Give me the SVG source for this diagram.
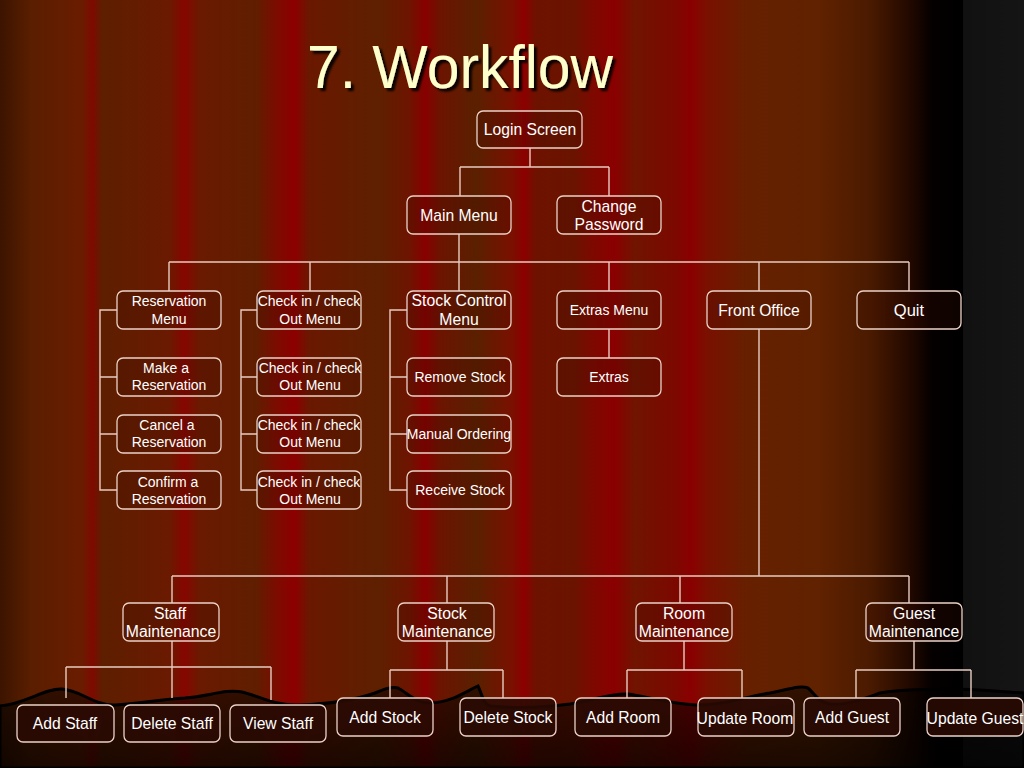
<svg xmlns="http://www.w3.org/2000/svg" width="1024" height="768" viewBox="0 0 1024 768">
<defs>
<linearGradient id="curtain" x1="0" y1="0" x2="1024" y2="0" gradientUnits="userSpaceOnUse">
<stop offset="0" stop-color="#3c1400"/>
<stop offset="0.03" stop-color="#5a1e00"/>
<stop offset="0.08" stop-color="#6a1c00"/>
<stop offset="0.09" stop-color="#7e0a00"/>
<stop offset="0.10" stop-color="#5e1e00"/>
<stop offset="0.165" stop-color="#6a1a00"/>
<stop offset="0.18" stop-color="#860600"/>
<stop offset="0.195" stop-color="#6a1a00"/>
<stop offset="0.25" stop-color="#601e00"/>
<stop offset="0.272" stop-color="#7e0a00"/>
<stop offset="0.288" stop-color="#8c0000"/>
<stop offset="0.302" stop-color="#6a1800"/>
<stop offset="0.37" stop-color="#5e2000"/>
<stop offset="0.40" stop-color="#6e1400"/>
<stop offset="0.415" stop-color="#880000"/>
<stop offset="0.43" stop-color="#6c1400"/>
<stop offset="0.465" stop-color="#5a2000"/>
<stop offset="0.50" stop-color="#7a1000"/>
<stop offset="0.512" stop-color="#8c0000"/>
<stop offset="0.523" stop-color="#6e1200"/>
<stop offset="0.56" stop-color="#6a1400"/>
<stop offset="0.58" stop-color="#7e0800"/>
<stop offset="0.60" stop-color="#8a0000"/>
<stop offset="0.62" stop-color="#701400"/>
<stop offset="0.66" stop-color="#7c0800"/>
<stop offset="0.675" stop-color="#8a0000"/>
<stop offset="0.69" stop-color="#7a1000"/>
<stop offset="0.73" stop-color="#662000"/>
<stop offset="0.80" stop-color="#602200"/>
<stop offset="0.85" stop-color="#4a1a00"/>
<stop offset="0.89" stop-color="#200800"/>
<stop offset="0.91" stop-color="#050000"/>
<stop offset="0.94" stop-color="#000000"/>
<stop offset="0.941" stop-color="#111111"/>
<stop offset="1" stop-color="#151515"/>
</linearGradient>
<linearGradient id="shade" x1="0" y1="690" x2="0" y2="768" gradientUnits="userSpaceOnUse">
<stop offset="0" stop-color="#000" stop-opacity="0.5"/>
<stop offset="1" stop-color="#000" stop-opacity="0.72"/>
</linearGradient>
<filter id="sh" x="-10%" y="-10%" width="130%" height="140%">
<feDropShadow dx="3" dy="3" stdDeviation="1.2" flood-color="#000" flood-opacity="0.9"/>
</filter>
</defs>
<style>
.n rect{fill:#3a0c00;fill-opacity:0.25;stroke:#ecd2c8;stroke-width:1.3}
.b rect{fill:#2a0a04;fill-opacity:0.85;stroke:#ecd2c8;stroke-width:1.3}
text{font-family:"Liberation Sans",Arial,sans-serif;fill:#ffffff;text-anchor:middle}
.s13{font-size:14px}
.s14{font-size:15.8px}
.s15{font-size:15.7px}
.s16{font-size:16.5px}
#connectors path{fill:none;stroke:#e8ccc0;stroke-width:1.4}
</style>
<rect x="0" y="0" width="1024" height="768" fill="url(#curtain)"/>
<path d="M0,706 C25,704 45,688 62,689 C80,690 95,706 115,705 C140,704 160,699 185,698 C210,696 225,689 242,692 C262,697 275,706 300,705 C330,704 355,700 375,693 C385,689 392,686 398,688 C408,693 415,703 430,703 C450,703 465,692 478,686 C482,694 483,704 490,706 C510,708 540,708 570,704 C595,700 610,693 628,694 C648,697 675,705 700,705 C725,705 745,697 770,693 C790,689 800,685 808,688 C815,694 818,702 830,704 C845,706 860,700 880,693 C900,689 920,690 940,689 C970,688 1000,692 1024,693 L1024,768 L0,768 Z" fill="url(#shade)" stroke="#000" stroke-width="3"/>
<text x="460" y="88" style="font-size:61px;fill:#ffffcc" textLength="306" lengthAdjust="spacingAndGlyphs" filter="url(#sh)">7. Workflow</text>
<g id="connectors">
<path d="M530,148 V167 M460,167 H609 M460,167 V196 M609,167 V196"/>
<path d="M459,234 V262 M169,262 H909 M169,262 V291 M310,262 V291 M459,262 V291 M609,262 V291 M759,262 V291 M909,262 V291"/>
<path d="M117,310 H100 V490 H117 M100,377 H117 M100,434 H117"/>
<path d="M257,310 H241 V490 H257 M241,377 H257 M241,434 H257"/>
<path d="M407,310 H390 V490 H407 M390,377 H407 M390,434 H407"/>
<path d="M609,329 V358"/>
<path d="M759,329 V576 M172,576 H909 M172,576 V603 M447,576 V603 M680,576 V603 M909,576 V603"/>
<path d="M172,641 V698 M66,667 H271 M66,667 V698 M271,667 V700"/>
<path d="M447,641 V670 M390,670 H503 M390,670 V698 M503,670 V698"/>
<path d="M684,641 V670 M627,670 H742 M627,670 V698 M742,670 V698"/>
<path d="M914,641 V670 M856,670 H971 M856,670 V698 M971,670 V698"/>
</g>
<g id="login" class="n"><rect x="477" y="111" width="105" height="37" rx="6"/><text class="s15" x="530" y="135">Login Screen</text></g>
<g id="mainmenu" class="n"><rect x="407" y="196" width="104" height="38" rx="6"/><text class="s15" x="459" y="221">Main Menu</text></g>
<g id="changepw" class="n"><rect x="557" y="196" width="104" height="38" rx="6"/><text class="s15" x="609" y="212">Change</text><text class="s15" x="609" y="230">Password</text></g>
<g id="resmenu" class="n"><rect x="117" y="291" width="104" height="38" rx="6"/><text class="s13" x="169" y="306">Reservation</text><text class="s13" x="169" y="324">Menu</text></g>
<g id="checkmenu" class="n"><rect x="257" y="291" width="104" height="38" rx="6"/><text class="s13" x="309" y="306">Check in / check</text><text class="s13" x="310" y="324">Out Menu</text></g>
<g id="stockmenu" class="n"><rect x="407" y="291" width="104" height="38" rx="6"/><text class="s14" x="459" y="306">Stock Control</text><text class="s14" x="459" y="325">Menu</text></g>
<g id="extrasmenu" class="n"><rect x="557" y="291" width="104" height="38" rx="6"/><text class="s13" x="609" y="315">Extras Menu</text></g>
<g id="frontoffice" class="n"><rect x="707" y="291" width="104" height="38" rx="6"/><text class="s15" x="759" y="316">Front Office</text></g>
<g id="quit" class="n"><rect x="857" y="291" width="104" height="38" rx="6"/><text class="s16" x="909" y="316">Quit</text></g>
<g id="makeres" class="n"><rect x="117" y="358" width="104" height="38" rx="6"/><text class="s13" x="166" y="373">Make a</text><text class="s13" x="169" y="390">Reservation</text></g>
<g id="check2" class="n"><rect x="257" y="358" width="104" height="38" rx="6"/><text class="s13" x="310" y="373">Check in / check</text><text class="s13" x="310" y="390">Out Menu</text></g>
<g id="removestock" class="n"><rect x="407" y="358" width="104" height="38" rx="6"/><text class="s13" x="460" y="382">Remove Stock</text></g>
<g id="extras" class="n"><rect x="557" y="358" width="104" height="38" rx="6"/><text class="s13" x="609" y="382">Extras</text></g>
<g id="cancelres" class="n"><rect x="117" y="415" width="104" height="38" rx="6"/><text class="s13" x="167" y="430">Cancel a</text><text class="s13" x="169" y="447">Reservation</text></g>
<g id="check3" class="n"><rect x="257" y="415" width="104" height="38" rx="6"/><text class="s13" x="309" y="430">Check in / check</text><text class="s13" x="310" y="447">Out Menu</text></g>
<g id="manualorder" class="n"><rect x="407" y="415" width="104" height="38" rx="6"/><text class="s13" x="459" y="439">Manual Ordering</text></g>
<g id="confirmres" class="n"><rect x="117" y="471" width="104" height="38" rx="6"/><text class="s13" x="168" y="487">Confirm a</text><text class="s13" x="169" y="504">Reservation</text></g>
<g id="check4" class="n"><rect x="257" y="471" width="104" height="38" rx="6"/><text class="s13" x="309" y="487">Check in / check</text><text class="s13" x="310" y="504">Out Menu</text></g>
<g id="receivestock" class="n"><rect x="407" y="471" width="104" height="38" rx="6"/><text class="s13" x="460" y="495">Receive Stock</text></g>
<g id="staffmaint" class="n"><rect x="123" y="603" width="96" height="38" rx="6"/><text class="s14" x="170" y="619">Staff</text><text class="s14" x="171" y="637">Maintenance</text></g>
<g id="stockmaint" class="n"><rect x="398" y="603" width="96" height="38" rx="6"/><text class="s14" x="447" y="619">Stock</text><text class="s14" x="447" y="637">Maintenance</text></g>
<g id="roommaint" class="n"><rect x="636" y="603" width="96" height="38" rx="6"/><text class="s14" x="684" y="619">Room</text><text class="s14" x="684" y="637">Maintenance</text></g>
<g id="guestmaint" class="n"><rect x="866" y="603" width="96" height="38" rx="6"/><text class="s14" x="914" y="619">Guest</text><text class="s14" x="914" y="637">Maintenance</text></g>
<g id="addstaff" class="b"><rect x="17" y="705" width="97" height="37" rx="6"/><text class="s15" x="65" y="729">Add Staff</text></g>
<g id="deletestaff" class="b"><rect x="124" y="705" width="96" height="37" rx="6"/><text class="s15" x="172" y="729">Delete Staff</text></g>
<g id="viewstaff" class="b"><rect x="230" y="705" width="96" height="37" rx="6"/><text class="s15" x="278" y="729">View Staff</text></g>
<g id="addstock" class="b"><rect x="337" y="698" width="96" height="38" rx="6"/><text class="s15" x="385" y="723">Add Stock</text></g>
<g id="deletestock" class="b"><rect x="460" y="698" width="96" height="38" rx="6"/><text class="s15" x="508" y="723">Delete Stock</text></g>
<g id="addroom" class="b"><rect x="575" y="698" width="96" height="38" rx="6"/><text class="s15" x="623" y="723">Add Room</text></g>
<g id="updateroom" class="b"><rect x="698" y="698" width="96" height="38" rx="6"/><text class="s15" x="745" y="724">Update Room</text></g>
<g id="addguest" class="b"><rect x="804" y="698" width="96" height="38" rx="6"/><text class="s15" x="852" y="723">Add Guest</text></g>
<g id="updateguest" class="b"><rect x="927" y="698" width="96" height="38" rx="6"/><text class="s15" x="975" y="724">Update Guest</text></g>
</svg>
